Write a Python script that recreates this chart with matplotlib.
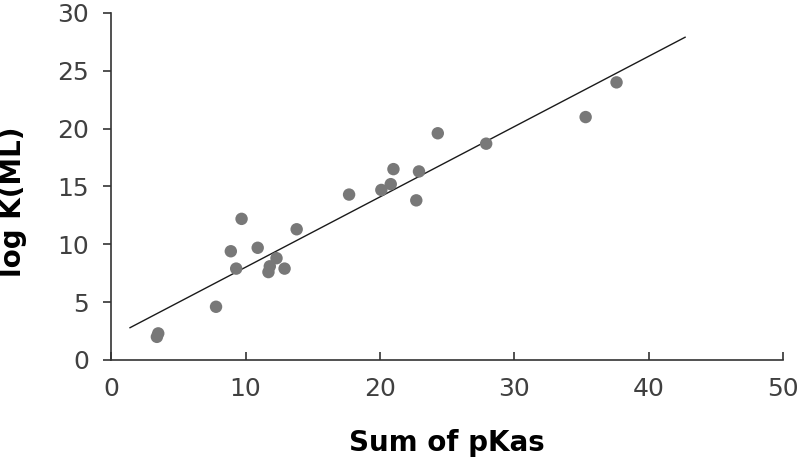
import matplotlib.pyplot as plt

# ----------------------------------------------------------------------
# Data
# ----------------------------------------------------------------------

sum_pkas = [3.5, 3.4, 7.8, 8.9, 9.3, 9.7, 10.9, 11.7, 11.8, 12.3, 12.9, 13.8,
            17.7, 20.1, 20.8, 21.0, 22.7, 22.9, 24.3, 27.9, 35.3, 37.6]
log_kml = [2.3, 2.0, 4.6, 9.4, 7.9, 12.2, 9.7, 7.6, 8.1, 8.8, 7.9, 11.3,
           14.3, 14.7, 15.2, 16.5, 13.8, 16.3, 19.6, 18.7, 21.0, 24.0]

# linear trendline
trend_x = [1.4, 42.7]
trend_slope = 0.608
trend_intercept = 1.94

x_ticks = [0, 10, 20, 30, 40, 50]
y_ticks = [0, 5, 10, 15, 20, 25, 30]

COLORS = {
    "point": "#787878",
    "line": "#1a1a1a",
    "tick": "#404040",
    "axis": "#333333",
}

plt.rcParams["font.family"] = ["DejaVu Sans"]

fig = plt.figure(figsize=(8.0, 4.63), dpi=100)
ax = fig.add_axes([0.139, 0.2225, 0.840, 0.7495])

trend_y = [trend_slope * x + trend_intercept for x in trend_x]
ax.plot(trend_x, trend_y, color=COLORS["line"], linewidth=1.0, zorder=2)
ax.scatter(sum_pkas, log_kml, s=80, color=COLORS["point"], edgecolors="none", zorder=3)

ax.set_xlim(0, 50)
ax.set_ylim(0, 30)
ax.set_xticks(x_ticks)
ax.set_yticks(y_ticks)

ax.spines["top"].set_visible(False)
ax.spines["right"].set_visible(False)
for side in ("left", "bottom"):
    ax.spines[side].set_color(COLORS["axis"])
    ax.spines[side].set_linewidth(1.2)

ax.tick_params(axis="x", direction="in", length=6, width=1.2, color=COLORS["axis"],
               labelsize=18, labelcolor=COLORS["tick"], pad=12)
ax.tick_params(axis="y", direction="out", length=6, width=1.2, color=COLORS["axis"],
               labelsize=18, labelcolor=COLORS["tick"], pad=10)

ax.set_xlabel("Sum of pKas", fontsize=20, fontweight="bold")
ax.set_ylabel("log K(ML)", fontsize=20, fontweight="bold")
ax.xaxis.set_label_coords(0.5, -0.2)
ax.yaxis.set_label_coords(-0.125, 0.455)

fig.savefig("out.png", dpi=100)
